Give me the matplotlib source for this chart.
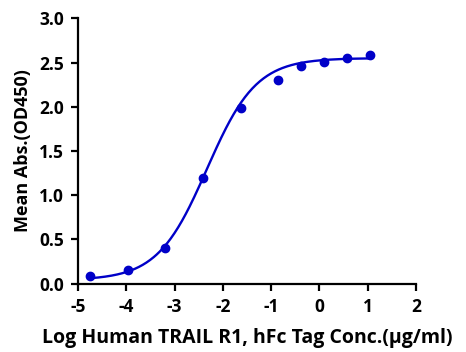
import numpy as np
import matplotlib.pyplot as plt

plt.rcParams['font.family'] = ['Open Sans', 'DejaVu Sans']
plt.rcParams['font.weight'] = 'bold'
plt.rcParams['axes.unicode_minus'] = False

# measured points (log conc, OD450)
log_conc = [-4.75, -3.97, -3.19, -2.42, -1.63, -0.85, -0.37, 0.10, 0.58, 1.06]
od450 = [0.087, 0.15, 0.40, 1.19, 1.99, 2.30, 2.46, 2.51, 2.55, 2.59]

# 4PL fit parameters
bottom, top, log_ec50, hill = 0.04, 2.55, -2.33, 0.85

color = '#0000C8'

fig = plt.figure(figsize=(4.66, 3.52), dpi=100)
ax = fig.add_axes([0.1674, 0.194, 0.725, 0.754])

xs = np.linspace(log_conc[0], log_conc[-1], 300)
ys = bottom + (top - bottom) / (1 + 10 ** ((log_ec50 - xs) * hill))
ax.plot(xs, ys, color=color, linewidth=1.7)
ax.plot(log_conc, od450, 'o', color=color, markersize=6)

ax.set_xlim(-5, 2)
ax.set_ylim(0, 3.0)
ax.set_xticks(range(-5, 3))
ax.set_yticks([0, 0.5, 1.0, 1.5, 2.0, 2.5, 3.0])
ax.set_yticklabels(['0.0', '0.5', '1.0', '1.5', '2.0', '2.5', '3.0'])

for s in ['top', 'right']:
    ax.spines[s].set_visible(False)
for s in ['left', 'bottom']:
    ax.spines[s].set_linewidth(1.6)
ax.tick_params(width=1.6, length=5, labelsize=12.5, pad=5)
for lab in ax.get_xticklabels() + ax.get_yticklabels():
    lab.set_fontweight('bold')

ax.set_xlabel('Log Human TRAIL R1, hFc Tag Conc.(μg/ml)', fontsize=14, fontweight='bold', labelpad=9)
ax.set_ylabel('Mean Abs.(OD450)', fontsize=13, fontweight='bold', labelpad=5)

fig.savefig('out.png', dpi=100)
